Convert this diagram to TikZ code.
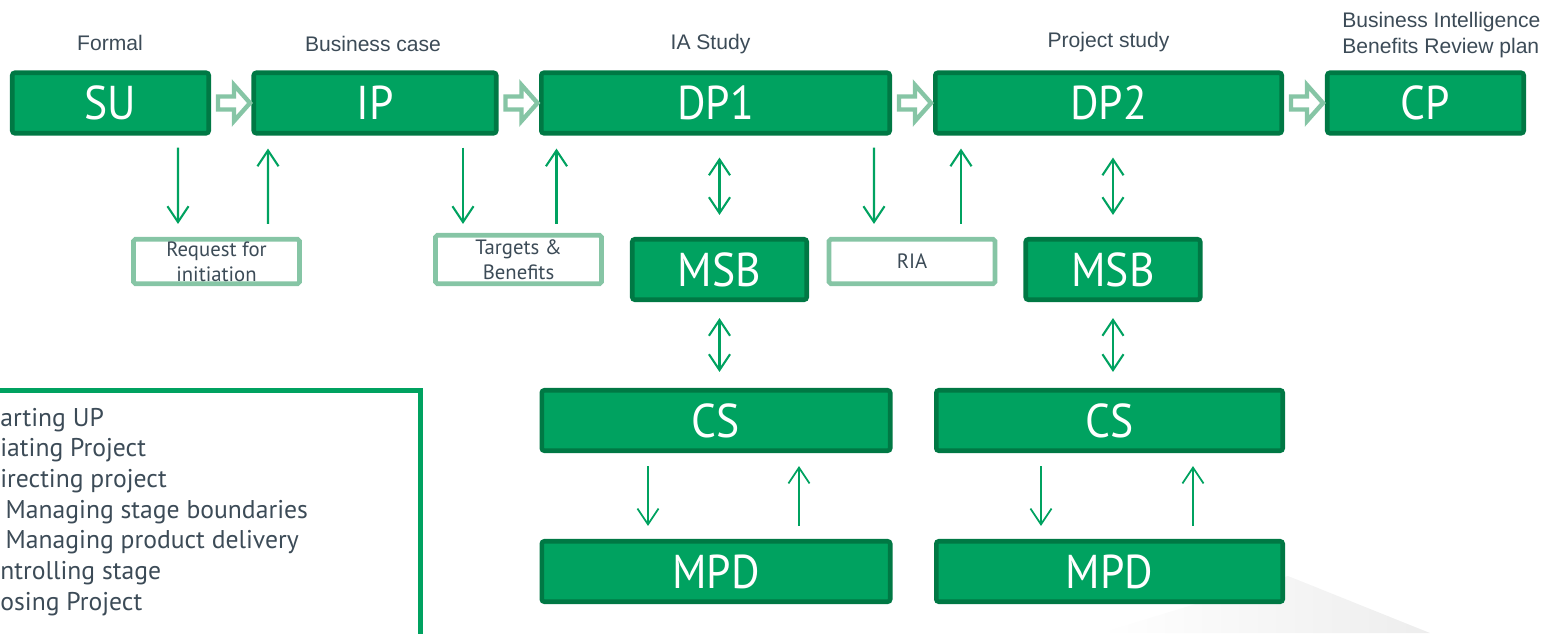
\documentclass[tikz,border=0pt]{standalone}
\usepackage{fontspec}
\usepackage{tikz}
\usetikzlibrary{arrows.meta,calc}
\setmainfont{PT Sans}
\newfontfamily\arialfont{Liberation Sans}
\newfontfamily\stagefont[FakeStretch=0.92]{PT Sans}
\definecolor{mlgreen}{RGB}{0,162,96}
\definecolor{mldark}{RGB}{0,120,68}
\definecolor{mllight}{RGB}{134,197,165}
\definecolor{mlslate}{RGB}{60,75,87}
\tikzset{
  stagebox/.style={draw=mldark, fill=mlgreen, line width=2.6pt, rounded corners=1.5pt,
    text=white, inner sep=0pt, font=\stagefont\fontsize{27}{30}\selectfont,
    minimum width=#1, minimum height=1.21cm},
  docbox/.style={draw=mllight, fill=white, line width=2.6pt, rounded corners=1pt,
    text=mlslate, inner sep=0pt, align=center, font=\fontsize{11.8}{14.4}\selectfont,
    minimum width=3.32cm, minimum height=#1},
  toplabel/.style={text=mlslate, inner sep=0pt, anchor=base, font=\arialfont\fontsize{12}{14.7}\selectfont},
  keyline/.style={text=mlslate, inner sep=0pt, anchor=base west, font=\fontsize{14.6}{17}\selectfont},
  hollow/.style={draw=mllight, fill=white, line width=2.5pt},
  flow/.style={draw=mlgreen, line width=1.2pt, -{Straight Barb[length=9pt,width=12pt]}},
  twoway/.style={flow, {Straight Barb[length=9pt,width=12pt]}-{Straight Barb[length=9pt,width=12pt]}},
  thinflow/.style={flow, line width=1pt}
}

\begin{document}
\begin{tikzpicture}[x=0.02cm, y=-0.02cm]
\useasboundingbox (0,0) rectangle (1543,633);
\clip (0,0) rectangle (1543,633);

% faint shadow
\shade[left color=white, right color=black!7] (1100,633) -- (1288,576) -- (1430,633) -- cycle;

% stages
\node[stagebox=3.93cm] (su) at (110.5,103) {SU};
\node[stagebox=4.85cm] (ip) at (375,103) {IP};
\node[stagebox=6.97cm] (dp1) at (715.5,103) {DP1};
\node[stagebox=6.93cm] (dp2) at (1108.5,103) {DP2};
\node[stagebox=3.93cm] (cp) at (1425.5,103) {CP};

\node[toplabel] (lsu) at (110,50) {Formal};
\node[toplabel] (lip) at (373,51) {Business case};
\node[toplabel] (ldp1) at (710.5,49.3) {IA Study};
\node[toplabel] (ldp2) at (1108.5,47.3) {Project study};
\node[toplabel, anchor=north west, align=left] (lcp) at (1342,12) {Business Intelligence\\Benefits Review plan};

\foreach \a in {su, ip, dp1, dp2}
  \draw[hollow] (\a.east) ++(7,-6.5) -- ++(16,0) -- ++(0,-11.5) -- ++(16,18)
    -- ++(-16,18) -- ++(0,-11.5) -- ++(-16,0) -- cycle;

% documents and boards
\node[docbox=0.89cm] (req) at (216.5,261.5) {Request for\\initiation};
\node[docbox=0.97cm] (tb) at (518.5,259.5) {Targets \&\\Benefits};
\node[docbox=0.89cm] (ria) at (912,261.5) {RIA};
\node[stagebox=3.49cm] (msb1) at (719.5,269.5) {MSB};
\node[stagebox=3.49cm] (msb2) at (1113,269.5) {MSB};

\node[stagebox=6.97cm] (cs1) at (716,420.5) {CS};
\node[stagebox=6.93cm] (cs2) at (1109.5,420.5) {CS};
\node[stagebox=6.97cm] (mpd1) at (716,571.5) {MPD};
\node[stagebox=6.93cm] (mpd2) at (1109.5,571.5) {MPD};

\draw[flow] ($(su.south)+(67.5,12)$) -- ($(req.north)+(-38.5,-13)$);
\draw[flow] ($(req.north)+(51.5,-13)$) -- ($(ip.south)+(-107,13)$);
\draw[flow] ($(ip.south)+(88,12)$) -- ($(tb.north)+(-55.5,-9)$);
\draw[flow] ($(tb.north)+(38,-9)$) -- ($(dp1.south)+(-159,13)$);
\draw[flow] ($(dp1.south)+(158.5,12)$) -- ($(ria.north)+(-38,-13)$);
\draw[flow] ($(ria.north)+(49,-13)$) -- ($(dp2.south)+(-147.5,13)$);

\draw[twoway, shorten <=0.44cm, shorten >=0.44cm] (dp1.south -| msb1.north) -- (msb1.north);
\draw[twoway, shorten <=0.44cm, shorten >=0.44cm] (dp2.south -| msb2.north) -- (msb2.north);
\draw[twoway, shorten <=0.32cm, shorten >=0.32cm] (msb1.south) -- (msb1.south |- cs1.north);
\draw[twoway, shorten <=0.32cm, shorten >=0.32cm] (msb2.south) -- (msb2.south |- cs2.north);

\draw[thinflow] ($(cs1.south)+(-68,13)$) -- ($(mpd1.north)+(-68,-13)$);
\draw[thinflow] ($(mpd1.north)+(83,-13)$) -- ($(cs1.south)+(83,13)$);
\draw[thinflow] ($(cs2.south)+(-68.5,13)$) -- ($(mpd2.north)+(-68.5,-13)$);
\draw[thinflow] ($(mpd2.north)+(83.5,-13)$) -- ($(cs2.south)+(83.5,13)$);

% key
\draw[draw=mlgreen, line width=2.8pt] (-20,390.5) rectangle (420.5,660);
\foreach \txt [count=\i] in {arting UP, iating Project, irecting project,
    {\hspace{3pt}Managing stage boundaries}, {\hspace{3pt}Managing product delivery},
    ntrolling stage, osing Project}
  \node[keyline] (key\i) at (0,{426+30.7*(\i-1)}) {\txt};
\end{tikzpicture}
\end{document}
